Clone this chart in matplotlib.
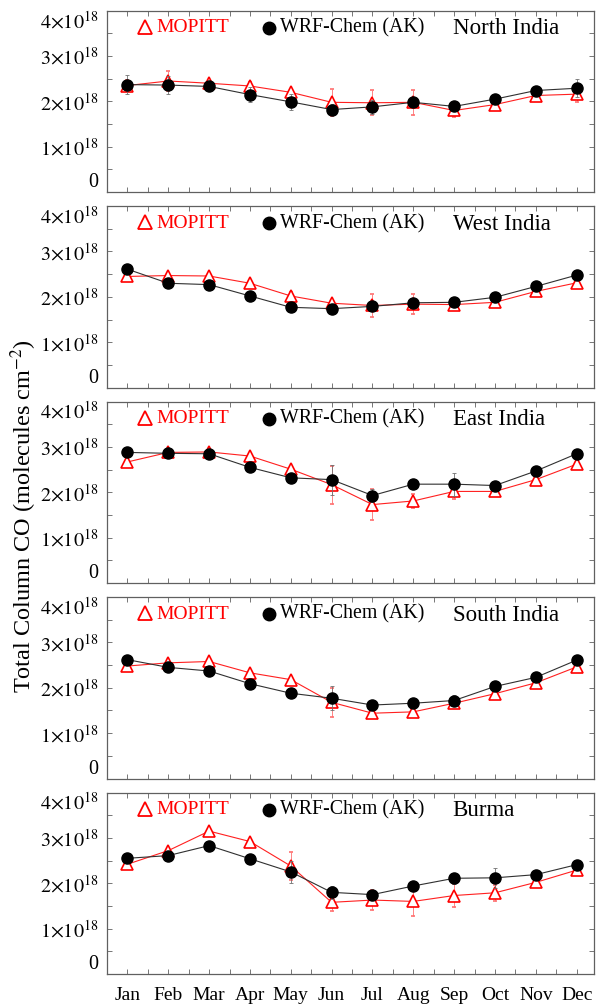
import numpy as np
import matplotlib
matplotlib.use('Agg')
from matplotlib import pyplot as plt
from matplotlib.ticker import MultipleLocator, FixedLocator, FixedFormatter

plt.rcParams['font.family'] = ['Liberation Serif', 'DejaVu Serif']
plt.rcParams['mathtext.fontset'] = 'stix'

months = ['Jan', 'Feb', 'Mar', 'Apr', 'May', 'Jun',
          'Jul', 'Aug', 'Sep', 'Oct', 'Nov', 'Dec']
regions = ['North India', 'West India', 'East India', 'South India', 'Burma']

# total column CO, units of 1e18 molecules cm-2
mopitt_north = [2.35, 2.45, 2.40, 2.34, 2.20, 1.98, 1.97, 1.98, 1.80, 1.93, 2.13, 2.16]
mopitt_north_err = [0.12, 0.22, 0.08, 0.08, 0.08, 0.30, 0.28, 0.27, 0.15, 0.06, 0.05, 0.18]
wrf_north = [2.37, 2.36, 2.33, 2.15, 1.99, 1.82, 1.88, 1.98, 1.89, 2.05, 2.24, 2.29]
wrf_north_err = [0.21, 0.20, 0.06, 0.17, 0.17, 0.12, 0.15, 0.10, 0.08, 0.06, 0.06, 0.20]

mopitt_west = [2.45, 2.47, 2.46, 2.30, 2.02, 1.86, 1.81, 1.84, 1.83, 1.88, 2.12, 2.31]
mopitt_west_err = [0.05, 0.05, 0.05, 0.05, 0.08, 0.06, 0.25, 0.22, 0.06, 0.05, 0.05, 0.06]
wrf_west = [2.61, 2.30, 2.27, 2.02, 1.77, 1.74, 1.79, 1.87, 1.88, 1.99, 2.23, 2.48]
wrf_west_err = [0.05, 0.05, 0.05, 0.05, 0.05, 0.05, 0.06, 0.08, 0.08, 0.05, 0.05, 0.05]

mopitt_east = [2.67, 2.88, 2.89, 2.80, 2.51, 2.17, 1.73, 1.81, 2.02, 2.02, 2.28, 2.62]
mopitt_east_err = [0.06, 0.06, 0.06, 0.06, 0.08, 0.42, 0.35, 0.15, 0.16, 0.06, 0.06, 0.06]
wrf_east = [2.88, 2.86, 2.85, 2.55, 2.32, 2.28, 1.93, 2.18, 2.18, 2.15, 2.47, 2.85]
wrf_east_err = [0.05, 0.05, 0.05, 0.05, 0.05, 0.33, 0.15, 0.08, 0.25, 0.06, 0.06, 0.05]

mopitt_south = [2.48, 2.55, 2.58, 2.33, 2.18, 1.68, 1.44, 1.47, 1.66, 1.87, 2.11, 2.46]
mopitt_south_err = [0.05, 0.05, 0.05, 0.05, 0.05, 0.32, 0.06, 0.06, 0.06, 0.05, 0.05, 0.05]
wrf_south = [2.62, 2.45, 2.37, 2.09, 1.88, 1.77, 1.62, 1.66, 1.72, 2.03, 2.23, 2.61]
wrf_south_err = [0.05, 0.05, 0.05, 0.05, 0.05, 0.27, 0.06, 0.06, 0.12, 0.05, 0.05, 0.05]

mopitt_burma = [2.42, 2.72, 3.15, 2.92, 2.38, 1.58, 1.63, 1.60, 1.73, 1.79, 2.02, 2.29]
mopitt_burma_err = [0.05, 0.06, 0.06, 0.06, 0.30, 0.20, 0.22, 0.32, 0.25, 0.18, 0.06, 0.06]
wrf_burma = [2.55, 2.61, 2.83, 2.54, 2.25, 1.80, 1.75, 1.94, 2.11, 2.12, 2.19, 2.41]
wrf_burma_err = [0.05, 0.05, 0.05, 0.05, 0.25, 0.15, 0.08, 0.08, 0.12, 0.22, 0.06, 0.05]

mopitt = [mopitt_north, mopitt_west, mopitt_east, mopitt_south, mopitt_burma]
mopitt_err = [mopitt_north_err, mopitt_west_err, mopitt_east_err,
              mopitt_south_err, mopitt_burma_err]
wrf = [wrf_north, wrf_west, wrf_east, wrf_south, wrf_burma]
wrf_err = [wrf_north_err, wrf_west_err, wrf_east_err, wrf_south_err, wrf_burma_err]

ytick_labels = ['0', r'$1{\times}10^{18}$', r'$2{\times}10^{18}$',
                r'$3{\times}10^{18}$', r'$4{\times}10^{18}$']

fig = plt.figure(figsize=(5.98, 10.06), dpi=100)

left, width = 0.179, 0.814
height, gap = 0.1804, 0.0139
bottom0 = 0.0318
spine_col = '#606060'
x = np.arange(1, 13)

for i, region in enumerate(regions):
    bottom = bottom0 + (4 - i)*(height + gap)
    ax = fig.add_axes([left, bottom, width, height])

    ax.errorbar(x, mopitt[i], yerr=mopitt_err[i], color='#ff2020', lw=0.8,
                elinewidth=0.6, ecolor='#ff7070', capsize=1.5, capthick=0.6,
                marker='^', ms=9, mfc='white', mec='#ff0000', mew=1.2,
                zorder=2)
    ax.errorbar(x, wrf[i], yerr=wrf_err[i], color='#303030', lw=0.8,
                elinewidth=0.6, ecolor='#707070', capsize=1.5, capthick=0.6,
                marker='o', ms=8, mfc='black', mec='black', zorder=3)

    ax.set_xlim(0.5, 12.42)
    ax.set_ylim(0, 4)

    ax.yaxis.set_major_locator(FixedLocator([0, 1, 2, 3, 4]))
    ax.yaxis.set_major_formatter(FixedFormatter(ytick_labels))
    ax.yaxis.set_minor_locator(MultipleLocator(0.5))
    ax.xaxis.set_major_locator(FixedLocator(list(x)))
    ax.xaxis.set_minor_locator(MultipleLocator(0.5))
    if i == 4:
        ax.set_xticklabels(months)
    else:
        ax.set_xticklabels([])

    ax.tick_params(which='both', direction='in', top=True, right=True,
                   length=3.5, width=0.6, color=spine_col)
    ax.tick_params(axis='x', pad=9, labelsize=14)
    ax.tick_params(axis='y', pad=6, labelsize=14.5)
    for s in ax.spines.values():
        s.set_color(spine_col)
        s.set_linewidth(0.9)

    # end labels sit inside the panel height, as in the original
    yticks = ax.yaxis.get_major_ticks()
    yticks[0].label1.set_va('bottom')
    yticks[-1].label1.set_va('top')

    # in-panel legend
    ax.plot([0.078], [0.91], transform=ax.transAxes, marker='^', ms=10,
            mfc='none', mec='#ff0000', mew=1.3, ls='none', clip_on=False)
    ax.text(0.102, 0.905, 'MOPITT', transform=ax.transAxes, color='#ff0000',
            fontsize=14, va='center', ha='left')
    ax.plot([0.333], [0.905], transform=ax.transAxes, marker='o', ms=9,
            color='black', ls='none', clip_on=False)
    ax.text(0.355, 0.905, 'WRF-Chem (AK)', transform=ax.transAxes,
            color='black', fontsize=14.3, va='center', ha='left')
    ax.text(0.71, 0.9, region, transform=ax.transAxes, color='black',
            fontsize=16.5, va='center', ha='left')

fig.text(0.04, 0.487, r'Total Column CO (molecules cm$^{-2}$)',
         rotation=90, fontsize=17.5, va='center', ha='center')

fig.savefig('out.png', dpi=100)
